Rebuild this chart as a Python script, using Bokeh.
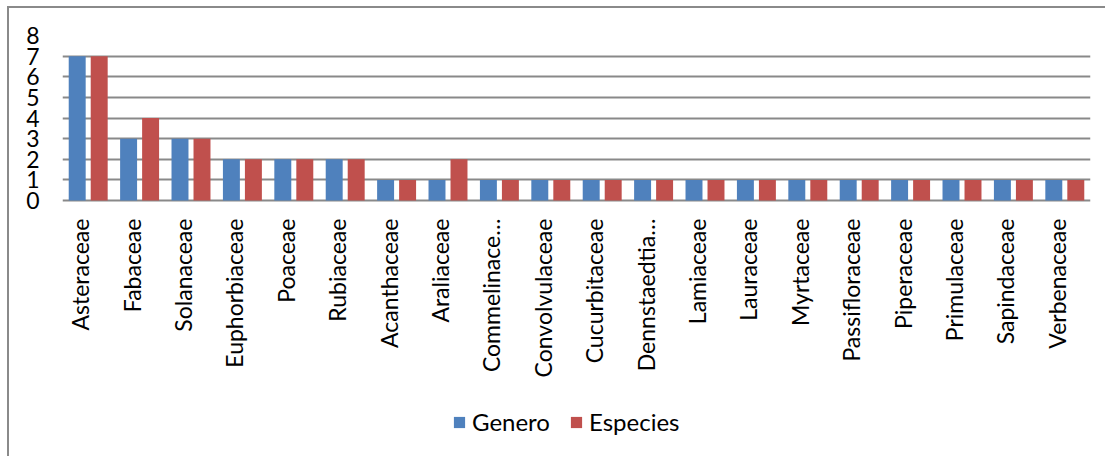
from bokeh.plotting import figure
from bokeh.models import Range1d, FixedTicker, ColumnDataSource, Legend, LegendItem
from bokeh.core.properties import value
from bokeh.transform import dodge
from bokeh.embed import file_html
from bokeh.resources import INLINE
import math

familias = ["Asteraceae", "Fabaceae", "Solanaceae", "Euphorbiaceae", "Poaceae",
            "Rubiaceae", "Acanthaceae", "Araliaceae", "Commelinace\u2026",
            "Convolvulaceae", "Cucurbitaceae", "Dennstaedtia\u2026", "Lamiaceae",
            "Lauraceae", "Myrtaceae", "Passifloraceae", "Piperaceae",
            "Primulaceae", "Sapindaceae", "Verbenaceae"]
genero = [7, 3, 3, 2, 2, 2, 1, 1, 1, 1, 1, 1, 1, 1, 1, 1, 1, 1, 1, 1]
especies = [7, 4, 3, 2, 2, 2, 1, 2, 1, 1, 1, 1, 1, 1, 1, 1, 1, 1, 1, 1]
y_ticks = [0, 1, 2, 3, 4, 5, 6, 7, 8]

FONT = "Lato"
BLUE = "#4F81BD"
RED = "#C0504D"
GRID = "#898989"
LABEL_SHIFT = 0.155
Y_BOTTOM = -12.5   # room under the zero line for category labels and legend

n = len(familias)
pos = [i + 0.5 for i in range(n)]          # category centres on a numeric axis
src = ColumnDataSource(dict(pos=pos, fam=familias, genero=genero, especies=especies))

p = figure(x_range=Range1d(0, n), y_range=Range1d(Y_BOTTOM, max(y_ticks)),
           width=1098, height=450, output_backend="svg", toolbar_location=None,
           x_axis_location=None,
           min_border_left=53, min_border_right=17, min_border_top=27,
           min_border_bottom=0)
p.styles = {"border-left": "2px solid #8a8a8a", "border-top": "2px solid #8a8a8a",
            "margin-left": "7px", "margin-top": "6px"}
p.outline_line_color = None
p.background_fill_color = "white"
p.border_fill_color = "white"

r1 = p.vbar(x=dodge("pos", -0.214), top="genero", bottom=0, width=0.33,
            source=src, fill_color=BLUE, line_color=None)
r2 = p.vbar(x=dodge("pos", 0.214), top="especies", bottom=0, width=0.33,
            source=src, fill_color=RED, line_color=None)

p.xgrid.grid_line_color = None
p.ygrid.grid_line_color = GRID
p.ygrid.grid_line_width = 2
p.ygrid.level = "underlay"

yax = p.yaxis[0]
yax.ticker = FixedTicker(ticks=y_ticks)
yax.axis_line_color = None
yax.major_tick_line_color = None
yax.minor_tick_line_color = None
yax.major_tick_out = 0
yax.major_tick_in = 0
yax.major_label_standoff = 23
yax.major_label_text_font = FONT
yax.major_label_text_font_size = "23px"
yax.major_label_text_color = "black"

# category labels, vertical, hanging under the zero line
p.text(x=dodge("pos", -LABEL_SHIFT), y=0, text="fam", source=src,
       angle=math.pi / 2, y_offset=18, text_align="right", text_baseline="middle",
       text_font=value(FONT), text_font_size="23px", text_color="black")

legend = Legend(items=[LegendItem(label="Genero", renderers=[r1]),
                       LegendItem(label="Especies", renderers=[r2])],
                location=(390, 22), orientation="horizontal",
                glyph_width=14, glyph_height=14, label_standoff=6, spacing=19,
                padding=0, margin=0, border_line_color=None,
                background_fill_alpha=0,
                label_text_font=FONT, label_text_font_size="24px",
                label_text_color="black")
p.add_layout(legend, "center")

open("out.html", "w").write(file_html(p, INLINE))
